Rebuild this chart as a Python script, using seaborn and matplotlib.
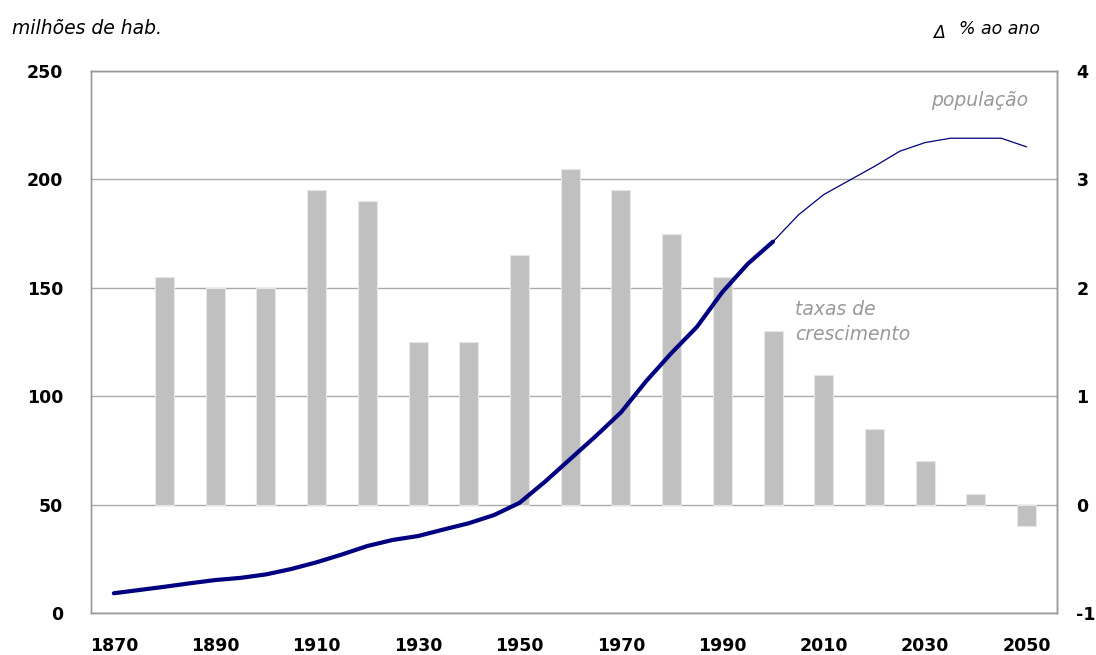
import numpy as np
import pandas as pd
import matplotlib
matplotlib.use("Agg")
import matplotlib.pyplot as plt
import seaborn as sns

# ---------- dados ----------
# taxas de crescimento (% ao ano), por década
anos_taxa = [1880, 1890, 1900, 1910, 1920, 1930, 1940, 1950, 1960,
             1970, 1980, 1990, 2000, 2010, 2020, 2030, 2040, 2050]
taxas = [2.1, 2.0, 2.0, 2.9, 2.8, 1.5, 1.5, 2.3, 3.1,
         2.9, 2.5, 2.1, 1.6, 1.2, 0.7, 0.4, 0.1, -0.2]

# população (milhões de hab.) - observada
anos_pop = [1870, 1875, 1880, 1885, 1890, 1895, 1900, 1905, 1910, 1915,
            1920, 1925, 1930, 1935, 1940, 1945, 1950, 1955, 1960, 1965,
            1970, 1975, 1980, 1985, 1990, 1995, 2000]
pop = [9.1, 10.6, 12.1, 13.7, 15.2, 16.2, 17.8, 20.3, 23.4, 27.0,
       30.9, 33.7, 35.5, 38.5, 41.4, 45.2, 50.8, 60.5, 71.0, 81.5,
       92.5, 107.0, 120.0, 132.0, 148.0, 161.0, 171.3]

# população - projeção
anos_proj = [2000, 2005, 2010, 2015, 2020, 2025, 2030, 2035, 2040, 2045, 2050]
pop_proj = [171.3, 183.6, 193.0, 199.5, 206.0, 213.0, 217.0, 219.0, 219.0, 219.0, 215.0]

df_taxa = pd.DataFrame({'ano': anos_taxa, 'taxa': taxas})
df_pop = pd.DataFrame({'ano': anos_pop, 'pop': pop})
df_proj = pd.DataFrame({'ano': anos_proj, 'pop': pop_proj})

# ---------- gráfico ----------
sns.set_style("white")
plt.rcParams['font.family'] = ['DejaVu Sans']

fig, ax = plt.subplots(figsize=(10.96, 6.55), dpi=100)
fig.subplots_adjust(left=91 / 1096, right=1057 / 1096, top=1 - 71 / 655, bottom=1 - 613 / 655)

ax2 = ax.twinx()

# linha por cima das barras
ax.set_zorder(ax2.get_zorder() + 1)
ax.patch.set_visible(False)

sns.barplot(data=df_taxa, x='ano', y='taxa', ax=ax2, native_scale=True, width=0.375,
            color='#c0c0c0', saturation=1, edgecolor='#e6e6e6', linewidth=0.8, errorbar=None)

sns.lineplot(data=df_pop, x='ano', y='pop', ax=ax, color='#000080', linewidth=3.0)
sns.lineplot(data=df_proj, x='ano', y='pop', ax=ax, color='#000080', linewidth=0.9)

ax.set_xlim(1865.5, 2056)
ax.set_ylim(0, 250)
ax2.set_ylim(-1, 4)

ax.set_yticks([0, 50, 100, 150, 200, 250])
ax2.set_yticks([-1, 0, 1, 2, 3, 4])
ax2.set_yticklabels(['-1', '0', '1', '2', '3', '4'])
ax.set_xticks(range(1870, 2051, 20))

for a in (ax, ax2):
    a.set_xlabel('')
    a.set_ylabel('')
    a.tick_params(length=0, labelsize=12.5, labelcolor='black')
    for lab in a.get_xticklabels() + a.get_yticklabels():
        lab.set_fontweight('bold')
    for s in a.spines.values():
        s.set_color('#999999')
        s.set_linewidth(1)

ax.tick_params(axis='y', pad=20)
ax.tick_params(axis='x', pad=17)
ax2.tick_params(axis='y', pad=14)
ax2.spines['right'].set_color('#777777')

ax2.yaxis.grid(True, color='#aaaaaa', linewidth=1)
ax2.set_axisbelow(True)

fig.text(12 / 1096, 1 - 28 / 655, 'milhões de hab.', fontsize=13.5, style='italic',
         va='center', color='black')
fig.text(939 / 1096, 1 - 33 / 655, 'Δ', fontsize=12.5, style='italic', va='center', ha='center',
         color='black')
fig.text(1040 / 1096, 1 - 29 / 655, '% ao ano', fontsize=12.5, style='italic', va='center',
         ha='right', color='black')

ax.text(2050.3, 236.5, 'população', color='#999999', fontsize=13.5, style='italic',
        ha='right', va='center')
ax.text(2004.3, 134, 'taxas de\ncrescimento', color='#999999', fontsize=13.5, style='italic',
        ha='left', va='center', linespacing=1.4)

plt.savefig('out.png', dpi=100)
